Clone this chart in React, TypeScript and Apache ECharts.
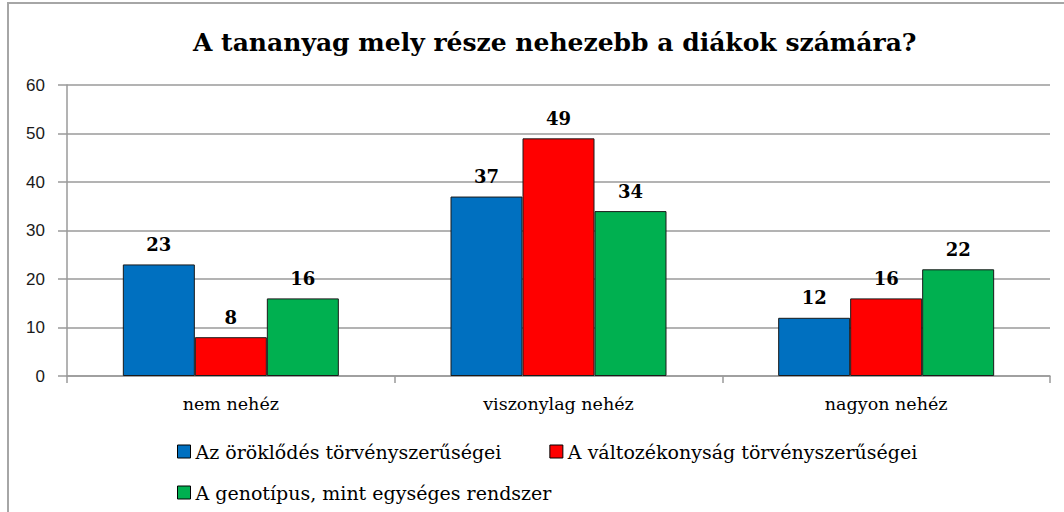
import React, { useEffect, useRef } from "react";
import * as echarts from "echarts";

const titleText = "A tananyag mely része nehezebb a diákok számára?";
const categories = ["nem nehéz", "viszonylag nehéz", "nagyon nehéz"];
const seriesNames = [
  "Az öröklődés törvényszerűségei",
  "A változékonyság törvényszerűségei",
  "A genotípus, mint egységes rendszer",
];
const seriesColors = ["#0070C0", "#FF0000", "#00B050"];
const inheritanceValues = [23, 37, 12];
const variabilityValues = [8, 49, 16];
const genotypeValues = [16, 34, 22];
const yTicks = { min: 0, max: 60, interval: 10 };

export default function App() {
  const ref = useRef<HTMLDivElement>(null);
  useEffect(() => {
    if (!ref.current) return;
    const chart = echarts.init(ref.current, undefined, { renderer: "svg" });
    const values = [inheritanceValues, variabilityValues, genotypeValues];
    const serif = "DejaVu Serif";
    chart.setOption({
      animation: false,
      backgroundColor: "#fff",
      title: {
        text: titleText,
        left: 188,
        top: 25,
        textStyle: { fontFamily: serif, fontWeight: "bold", fontSize: 25, color: "#000" },
      },
      graphic: [
        {
          type: "rect",
          shape: { x: 8, y: 3, width: 1080, height: 540 },
          style: { fill: "none", stroke: "#a6a6a6", lineWidth: 2 },
          silent: true,
        },
      ],
      legend: [
        {
          data: seriesNames.slice(0, 2),
          left: 172,
          top: 437,
          itemWidth: 13,
          itemHeight: 13,
          itemGap: 48,
          icon: "rect",
          itemStyle: { borderColor: "#000", borderWidth: 1 },
          textStyle: { fontFamily: serif, fontSize: 19, color: "#000" },
        },
        {
          data: seriesNames.slice(2),
          left: 172,
          top: 478,
          itemWidth: 13,
          itemHeight: 13,
          icon: "rect",
          itemStyle: { borderColor: "#000", borderWidth: 1 },
          textStyle: { fontFamily: serif, fontSize: 19, color: "#000" },
        },
      ],
      grid: { left: 67, right: 14, top: 85, bottom: 136, containLabel: false },
      xAxis: {
        type: "category",
        data: categories,
        axisLine: { lineStyle: { color: "#9a9a9a", width: 1.5 } },
        axisTick: { show: true, length: 7, lineStyle: { color: "#9a9a9a", width: 1.5 } },
        axisLabel: { fontFamily: serif, fontSize: 17.5, color: "#000", margin: 19 },
      },
      yAxis: {
        type: "value",
        min: yTicks.min,
        max: yTicks.max,
        interval: yTicks.interval,
        axisLine: { show: true, lineStyle: { color: "#9a9a9a", width: 1.5 } },
        axisTick: { show: true, length: 9, lineStyle: { color: "#9a9a9a", width: 1.5 } },
        splitLine: { lineStyle: { color: "#9a9a9a", width: 1.5 } },
        axisLabel: { fontFamily: "Liberation Sans", fontSize: 17, color: "#1a1a1a", margin: 22 },
      },
      series: seriesNames.map((name, i) => ({
        name,
        type: "bar",
        data: values[i],
        barWidth: 72,
        barGap: "0%",
        itemStyle: { color: seriesColors[i], borderColor: "#1a1a1a", borderWidth: 1 },
        label: {
          show: true,
          position: "top",
          distance: 11,
          fontFamily: serif,
          fontWeight: "bold",
          fontSize: 18,
          color: "#000",
        },
      })),
    });
    return () => chart.dispose();
  }, []);
  return (
    <div
      ref={ref}
      style={{ position: "fixed", left: 0, top: 0, width: 1064, height: 512 }}
    />
  );
}
